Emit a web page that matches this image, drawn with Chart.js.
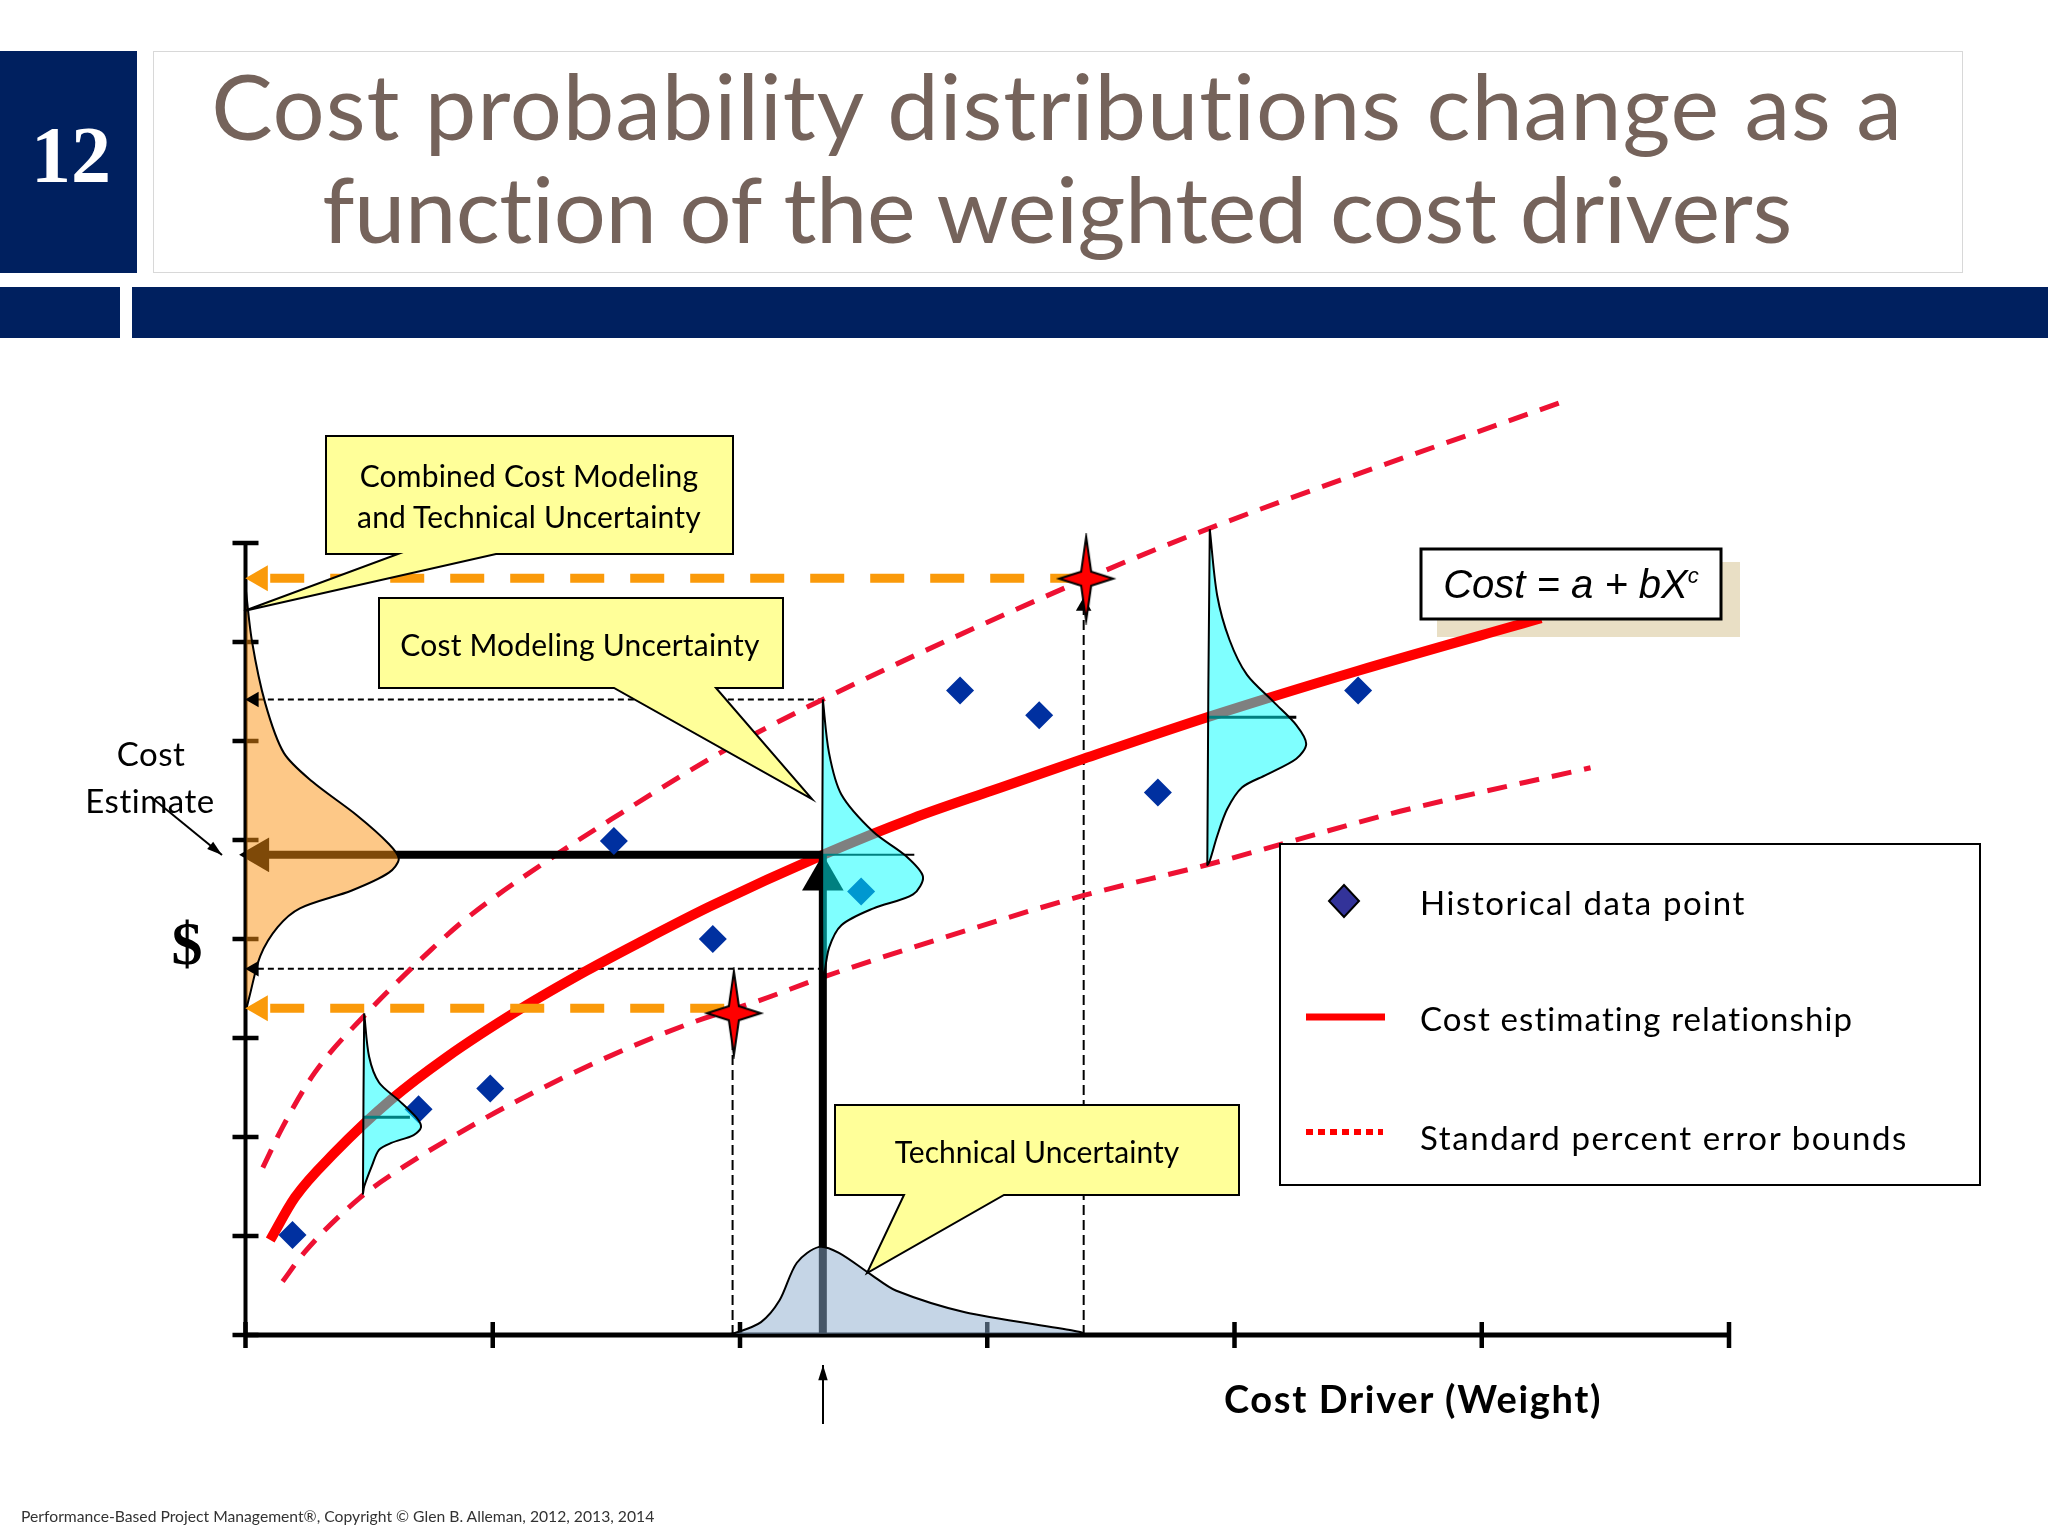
<!DOCTYPE html>
<html>
<head>
<meta charset="utf-8">
<title>Cost probability distributions</title>
<script src="https://cdn.jsdelivr.net/npm/chart.js@4/dist/chart.umd.min.js"></script>
<style>
  html, body { margin: 0; background: #fff; }
  #page { position: relative; width: 2048px; height: 1536px; overflow: hidden; font-family: Lato, sans-serif; color: #000; }
  #page div { position: absolute; white-space: nowrap; }
  canvas { position: absolute; left: 0; top: 0; }
  .navy { background: #00205f; }
  .title { color: #75635b; font-size: 92px; line-height: 92px; transform: translateX(-50%); left: 1057px; }
  .mid { transform: translate(-50%, -50%); }
  .note { font-size: 30px; letter-spacing: 0.2px; }
  .legend-text { font-size: 33px; letter-spacing: 1.6px; left: 1420px; transform: translateY(-50%); }
</style>
</head>
<body>
<div id="page">
  <canvas id="costChart" width="2048" height="1536"></canvas>
  <div class="navy" style="left:0;top:51px;width:137px;height:222px"></div>
  <div class="mid" style="left:71px;top:155px;color:#fff;font:bold 80px 'Liberation Serif'">12</div>
  <div style="left:153px;top:51px;width:1808px;height:220px;border:1px solid #d8d8d8"></div>
  <div class="navy" style="left:0;top:287px;width:120px;height:51px"></div>
  <div class="navy" style="left:132px;top:287px;width:1916px;height:51px"></div>
  <div class="title" style="top:59px;letter-spacing:0.9px">Cost probability distributions change as a</div>
  <div class="title" style="top:162px;letter-spacing:-0.4px">function of the weighted cost drivers</div>

  <div class="mid note" style="left:529px;top:475px">Combined Cost Modeling</div>
  <div class="mid note" style="left:529px;top:516px">and Technical Uncertainty</div>
  <div class="mid note" style="left:580px;top:644px">Cost Modeling Uncertainty</div>
  <div class="mid note" style="left:1037px;top:1151px;letter-spacing:0.05px">Technical Uncertainty</div>
  <div class="mid" style="left:151px;top:753px;font-size:33px;letter-spacing:0.5px">Cost</div>
  <div class="mid" style="left:150px;top:800px;font-size:33px;letter-spacing:0.5px">Estimate</div>
  <div class="mid" style="left:187px;top:943px;font:bold 62px 'Liberation Serif'">$</div>
  <div class="mid" style="left:1413px;top:1398px;font-size:38px;font-weight:bold;letter-spacing:1.65px">Cost Driver (Weight)</div>
  <div class="mid" style="left:1571px;top:584px;font:italic 40px 'Liberation Sans'">Cost = a + bX<sup style="font-size:22px">c</sup></div>
  <div class="legend-text" style="top:902px">Historical data point</div>
  <div class="legend-text" style="top:1018px;letter-spacing:1.1px">Cost estimating relationship</div>
  <div class="legend-text" style="top:1137px">Standard percent error bounds</div>
  <div style="left:21px;top:1507px;font-size:15.7px;color:#333">Performance-Based Project Management®, Copyright © Glen B. Alleman, 2012, 2013, 2014</div>
</div>

<script>
// axis ticks
const xTicks = [0, 1, 2, 3, 4, 5, 6];
const yTicks = [0, 1, 2, 3, 4, 5, 6, 7, 8];

// historical data points
const histX = [0.19, 0.70, 0.99, 1.49, 1.89, 2.49, 2.89, 3.21, 3.69, 4.50];
const histY = [1.01, 2.28, 2.49, 4.99, 4.00, 4.48, 6.51, 6.26, 5.48, 6.51];

// cost estimating relationship
const cerX = [0.10, 0.20, 0.36, 0.59, 0.81, 1.11, 1.38, 1.59, 1.88, 2.335, 2.70, 3.02, 3.39, 3.89, 4.50, 5.24];
const cerY = [0.96, 1.39, 1.84, 2.38, 2.80, 3.29, 3.68, 3.96, 4.33, 4.85, 5.22, 5.50, 5.82, 6.24, 6.71, 7.24];

// error bounds
const upperX = [0.07, 0.15, 0.28, 0.49, 0.75, 0.89, 1.22, 1.48, 1.92, 2.335, 3.40, 3.89, 5.33];
const upperY = [1.69, 2.10, 2.65, 3.25, 3.89, 4.20, 4.79, 5.21, 5.88, 6.42, 7.64, 8.14, 9.43];
const lowerX = [0.15, 0.24, 0.46, 0.64, 0.85, 1.08, 1.44, 1.80, 2.08, 2.33, 3.05, 3.39, 3.89, 4.67, 5.44];
const lowerY = [0.54, 0.84, 1.38, 1.70, 2.02, 2.34, 2.78, 3.15, 3.38, 3.61, 4.19, 4.44, 4.75, 5.29, 5.73];

// distributions
const smallDistX = [0.48, 0.50, 0.54, 0.62, 0.69, 0.71, 0.68, 0.59, 0.54, 0.51, 0.48, 0.475, 0.48];
const smallDistY = [3.25, 2.81, 2.55, 2.37, 2.20, 2.10, 2.02, 1.94, 1.87, 1.70, 1.50, 1.43, 3.25];
const midDistX = [2.335, 2.36, 2.41, 2.54, 2.67, 2.74, 2.70, 2.54, 2.41, 2.36, 2.335, 2.335];
const midDistY = [6.42, 5.88, 5.46, 5.08, 4.84, 4.63, 4.45, 4.31, 4.14, 3.91, 3.58, 6.42];
const largeDistX = [3.90, 3.93, 3.98, 4.05, 4.16, 4.25, 4.29, 4.25, 4.13, 4.03, 3.97, 3.93, 3.90, 3.89, 3.90];
const largeDistY = [8.14, 7.47, 7.02, 6.67, 6.39, 6.16, 5.97, 5.82, 5.66, 5.53, 5.31, 5.04, 4.79, 4.75, 8.14];
const costDistX = [0, 0.026, 0.08, 0.155, 0.27, 0.45, 0.58, 0.62, 0.58, 0.43, 0.22, 0.13, 0.06, 0.015, 0, 0];
const costDistY = [7.56, 7.01, 6.38, 5.88, 5.59, 5.25, 4.96, 4.81, 4.67, 4.49, 4.31, 4.12, 3.83, 3.41, 3.28, 7.56];
const techDistX = [1.93, 1.98, 2.085, 2.16, 2.23, 2.32, 2.40, 2.53, 2.63, 2.91, 3.38, 1.93];
const techDistY = [0, 0.02, 0.13, 0.35, 0.73, 0.89, 0.83, 0.61, 0.45, 0.23, 0.01, 0];

// estimate levels
const estimateX = 2.335;
const estimateY = 4.85;
const highBoundY = 6.42;
const lowBoundY = 3.70;
const highStarX = 3.40;
const highStarY = 7.64;
const lowStarX = 1.975;
const lowStarY = 3.25;
const highDropX = 3.39;
const lowDropX = 1.97;
const highOrangeY = 7.645;
const lowOrangeY = 3.30;

function makeStar() {
  const c = document.createElement('canvas');
  c.width = 64;
  c.height = 92;
  const g = c.getContext('2d');
  g.translate(32, 46);
  g.beginPath();
  g.moveTo(0, -42);
  g.lineTo(5, -7);
  g.lineTo(27, 0);
  g.lineTo(5, 7);
  g.lineTo(0, 42);
  g.lineTo(-5, 7);
  g.lineTo(-27, 0);
  g.lineTo(-5, -7);
  g.closePath();
  g.fillStyle = '#ff0000';
  g.fill();
  g.strokeStyle = '#000';
  g.lineWidth = 2;
  g.stroke();
  return c;
}
const star = makeStar();

function series(xs, ys, opts) {
  return Object.assign({
    data: xs.map((x, i) => ({ x: x, y: ys[i] })),
    showLine: true, pointRadius: 0, fill: false, tension: 0, clip: false,
    borderColor: '#000', borderWidth: 2, backgroundColor: 'transparent'
  }, opts);
}
function marker(x, y, style, radius, color, rotation) {
  return {
    data: [{ x: x, y: y }], showLine: false, clip: false,
    pointStyle: style, pointRadius: radius, pointRotation: rotation || 0,
    pointBackgroundColor: color, pointBorderColor: color, pointBorderWidth: 0
  };
}
const thinDash = [6, 4];
const orange = '#fa9a0a';

// painter's order, first entry is at the back
const layers = [
  series([0, 6], [0, 0], { borderWidth: 5 }),
  series([0, 0], [0, 8], { borderWidth: 4 }),
  series([0.05, estimateX], [highBoundY, highBoundY], { borderDash: thinDash }),
  series([0.05, estimateX], [lowBoundY, lowBoundY], { borderDash: thinDash }),
  series([lowDropX, lowDropX], [0, lowStarY], { borderDash: [10, 5] }),
  series([highDropX, highDropX], [0, highStarY], { borderDash: [10, 5] }),
  series(upperX, upperY, { borderColor: '#ee1133', borderWidth: 5, borderDash: [20, 13], cubicInterpolationMode: 'monotone' }),
  series(lowerX, lowerY, { borderColor: '#ee1133', borderWidth: 5, borderDash: [20, 13], cubicInterpolationMode: 'monotone' }),
  series(cerX, cerY, { borderColor: '#ff0000', borderWidth: 10, cubicInterpolationMode: 'monotone' }),
  series([0, estimateX], [estimateY, estimateY], { borderWidth: 8 }),
  series([estimateX, estimateX], [0, estimateY], { borderWidth: 8 }),
  marker(estimateX, estimateY - 0.24, 'triangle', 24, '#000'),
  marker(0.055, estimateY, 'triangle', 20, '#000', -90),
  marker(highStarX - 0.01, 7.36, 'triangle', 9, '#000'),
  {
    data: histX.map((x, i) => ({ x: x, y: histY[i] })), showLine: false, clip: false,
    pointStyle: 'rectRot', pointRadius: 14, pointBackgroundColor: '#0030a0', pointBorderColor: '#0030a0', pointBorderWidth: 0
  },
  series([0.475, 0.665], [2.20, 2.20], { borderWidth: 3 }),
  series([estimateX, 2.705], [estimateY, estimateY], { borderWidth: 2 }),
  series([3.89, 4.25], [6.24, 6.24], { borderWidth: 3 }),
  series(smallDistX, smallDistY, { fill: 'shape', backgroundColor: 'rgba(0,255,255,0.5)', tension: 0.3 }),
  series(midDistX, midDistY, { fill: 'shape', backgroundColor: 'rgba(0,255,255,0.5)', tension: 0.3 }),
  series(largeDistX, largeDistY, { fill: 'shape', backgroundColor: 'rgba(0,255,255,0.5)', tension: 0.3 }),
  series(costDistX, costDistY, { fill: 'shape', backgroundColor: 'rgba(251,146,15,0.5)', tension: 0.3 }),
  series(techDistX, techDistY, { fill: 'shape', backgroundColor: 'rgba(140,172,206,0.5)', tension: 0.3 }),
  marker(0.035, highBoundY, 'triangle', 9, '#000', -90),
  marker(0.035, lowBoundY, 'triangle', 9, '#000', -90),
  series([0.1, highStarX], [highOrangeY, highOrangeY], { borderColor: orange, borderWidth: 9, borderDash: [34, 26] }),
  series([0.1, lowStarX], [lowOrangeY, lowOrangeY], { borderColor: orange, borderWidth: 9, borderDash: [34, 26] }),
  marker(0.06, highOrangeY, 'triangle', 15, orange, -90),
  marker(0.06, lowOrangeY, 'triangle', 15, orange, -90),
  marker(highStarX, highStarY, star, 10, '#f00'),
  marker(lowStarX, lowStarY, star, 10, '#f00')
];
layers.forEach((d, i) => { d.order = -i; });

function polygon(ctx, pts, fill) {
  ctx.beginPath();
  pts.forEach((p, i) => i ? ctx.lineTo(p[0], p[1]) : ctx.moveTo(p[0], p[1]));
  ctx.closePath();
  ctx.fillStyle = fill;
  ctx.fill();
  ctx.strokeStyle = '#000';
  ctx.lineWidth = 2;
  ctx.stroke();
}

function arrow(ctx, x1, y1, x2, y2) {
  const a = Math.atan2(y2 - y1, x2 - x1);
  ctx.beginPath();
  ctx.moveTo(x1, y1);
  ctx.lineTo(x2, y2);
  ctx.strokeStyle = '#000';
  ctx.lineWidth = 2;
  ctx.stroke();
  ctx.beginPath();
  ctx.moveTo(x2, y2);
  ctx.lineTo(x2 - 16 * Math.cos(a - 0.3), y2 - 16 * Math.sin(a - 0.3));
  ctx.lineTo(x2 - 16 * Math.cos(a + 0.3), y2 - 16 * Math.sin(a + 0.3));
  ctx.closePath();
  ctx.fillStyle = '#000';
  ctx.fill();
}

const slideParts = {
  id: 'slideParts',
  beforeDatasetsDraw(chart) {
    const ctx = chart.ctx;
    const sx = chart.scales.x;
    const sy = chart.scales.y;
    ctx.save();
    // shadow of the formula box sits under the curves
    ctx.fillStyle = '#e9dfc5';
    ctx.fillRect(1437, 562, 303, 75);
    ctx.strokeStyle = '#000';
    ctx.lineWidth = 4.5;
    ctx.beginPath();
    xTicks.forEach(v => {
      const p = sx.getPixelForValue(v);
      ctx.moveTo(p, sy.getPixelForValue(0) - 13);
      ctx.lineTo(p, sy.getPixelForValue(0) + 13);
    });
    yTicks.forEach(v => {
      const p = sy.getPixelForValue(v);
      ctx.moveTo(sx.getPixelForValue(0) - 13, p);
      ctx.lineTo(sx.getPixelForValue(0) + 13, p);
    });
    ctx.stroke();
    ctx.restore();
  },
  afterDatasetsDraw(chart) {
    const ctx = chart.ctx;
    ctx.save();
    polygon(ctx, [[326, 436], [733, 436], [733, 554], [496, 554], [244, 611], [398, 554], [326, 554]], '#ffff99');
    polygon(ctx, [[379, 598], [783, 598], [783, 688], [716, 688], [812, 799], [614, 688], [379, 688]], '#ffff99');
    polygon(ctx, [[835, 1105], [1239, 1105], [1239, 1195], [1004, 1195], [867, 1273], [904, 1195], [835, 1195]], '#ffff99');

    ctx.fillStyle = '#fff';
    ctx.strokeStyle = '#000';
    ctx.lineWidth = 3;
    ctx.fillRect(1421, 549, 300, 70);
    ctx.strokeRect(1421, 549, 300, 70);

    ctx.lineWidth = 2;
    ctx.fillRect(1280, 844, 700, 341);
    ctx.strokeRect(1280, 844, 700, 341);
    polygon(ctx, [[1344, 885], [1359, 901], [1344, 917], [1329, 901]], '#333399');
    ctx.strokeStyle = '#ff0000';
    ctx.lineWidth = 7;
    ctx.beginPath();
    ctx.moveTo(1306, 1017);
    ctx.lineTo(1385, 1017);
    ctx.stroke();
    ctx.setLineDash([7, 5]);
    ctx.lineWidth = 6;
    ctx.beginPath();
    ctx.moveTo(1306, 1132);
    ctx.lineTo(1383, 1132);
    ctx.stroke();
    ctx.setLineDash([]);

    arrow(ctx, 151, 797, 222, 855);
    arrow(ctx, 823, 1424, 823, 1365);
    ctx.restore();
  }
};

new Chart(document.getElementById('costChart'), {
  type: 'scatter',
  data: { datasets: layers },
  plugins: [slideParts],
  options: {
    responsive: false,
    devicePixelRatio: 1,
    animation: false,
    events: [],
    layout: { padding: { left: 245.5, right: 319, top: 345, bottom: 201 } },
    plugins: { legend: { display: false }, tooltip: { enabled: false } },
    scales: {
      x: { type: 'linear', min: 0, max: 6, display: false },
      y: { type: 'linear', min: 0, max: 10, display: false }
    }
  }
});
</script>
</body>
</html>
